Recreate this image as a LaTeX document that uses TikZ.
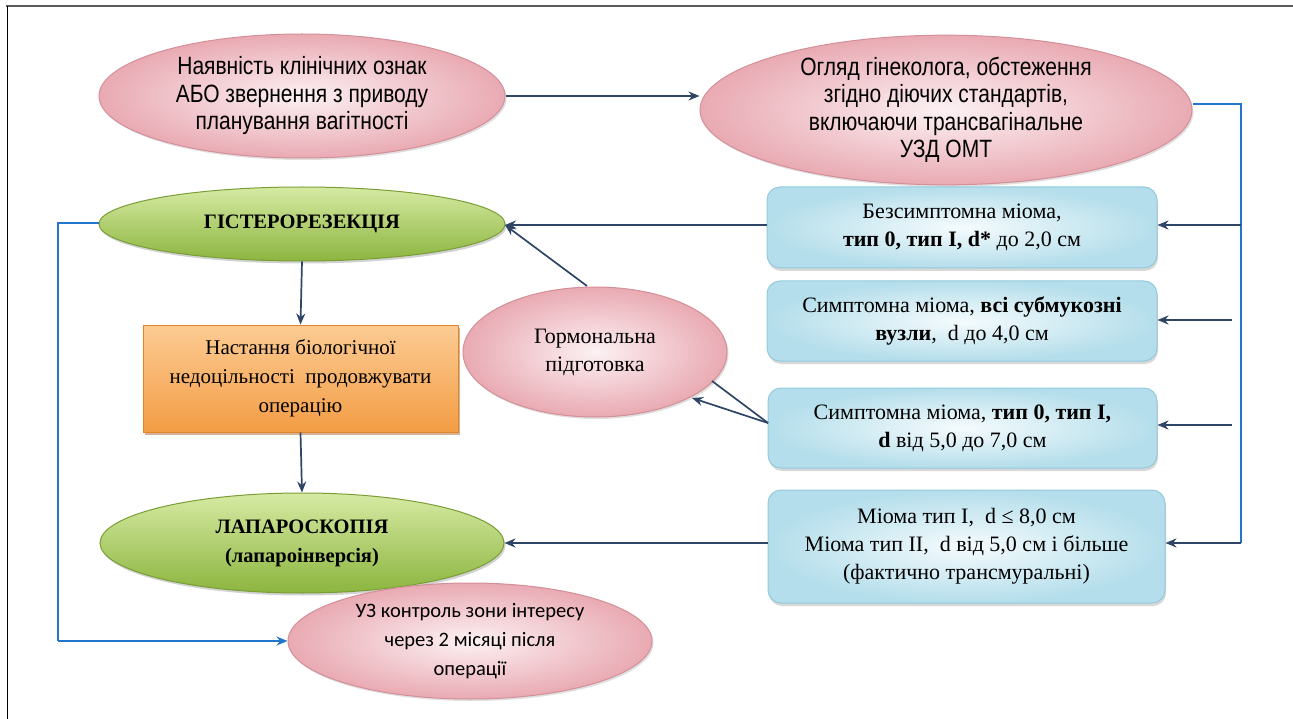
\documentclass[tikz,border=0pt]{standalone}
\usepackage{fontspec}
\setmainfont{Liberation Serif}
\newfontfamily\narrowsans[FakeStretch=0.84]{Liberation Sans}
\newfontfamily\calib{Carlito}
\usetikzlibrary{shapes.geometric,arrows.meta,shadows}
\definecolor{pinkin}{HTML}{FCF1F3}
\definecolor{pinkout}{HTML}{E9AAB3}
\definecolor{pinkedge}{HTML}{D58F99}
\definecolor{greentop}{HTML}{D6EAA3}
\definecolor{greenbot}{HTML}{8CB53F}
\definecolor{greenedge}{HTML}{7A9E36}
\definecolor{orangetop}{HTML}{FCCB93}
\definecolor{orangebot}{HTML}{F39D45}
\definecolor{orangeedge}{HTML}{E0842C}
\definecolor{bluein}{HTML}{F5FBFD}
\definecolor{blueout}{HTML}{B4DEEB}
\definecolor{blueedge}{HTML}{93CADC}
\definecolor{navy}{HTML}{2F4565}
\definecolor{bline}{HTML}{2277CC}
\definecolor{framegray}{HTML}{5A5A5A}
\tikzset{
  pinkell/.style={ellipse, draw=pinkedge, line width=1pt, inner color=pinkin, outer color=pinkout, inner sep=0pt, align=center, drop shadow={shadow xshift=1.5pt, shadow yshift=-2pt, opacity=0.25}},
  greenell/.style={ellipse, draw=greenedge, line width=1pt, top color=greentop, bottom color=greenbot, inner sep=0pt, align=center, drop shadow={shadow xshift=1.5pt, shadow yshift=-2.5pt, opacity=0.35}},
  orangebox/.style={rectangle, draw=orangeedge, line width=1pt, top color=orangetop, bottom color=orangebot, inner sep=0pt, align=center, drop shadow={shadow xshift=2pt, shadow yshift=-3pt, opacity=0.45, fill=orangeedge!70!black}},
  bluebox/.style={rectangle, rounded corners=13pt, draw=blueedge, line width=1pt, inner color=bluein, outer color=blueout, inner sep=0pt, align=center, drop shadow={shadow xshift=1pt, shadow yshift=-3pt, opacity=0.3}},
  arr/.style={draw=navy, line width=1.7pt, -{Stealth[length=11pt,width=9pt]}},
  plainline/.style={draw=navy, line width=1.7pt},
  blueln/.style={draw=bline, line width=2pt},
  bluearr/.style={draw=bline, line width=2pt, -{Stealth[length=11pt,width=9pt]}},
  ellsans/.style={font=\narrowsans\fontsize{25}{27.5}\selectfont},
  serif/.style={font=\fontsize{22}{28}\selectfont},
}
\begin{document}
\begin{tikzpicture}[x=1pt,y=-1pt]
\useasboundingbox (0,0) rectangle (1293,719);
\fill[white] (0,0) rectangle (1293,719);
% frame
\draw[framegray, line width=2pt] (6,6) -- (1293,6);
\draw[black, line width=1pt] (7,6) -- (7,719);

% nodes
\node[pinkell, ellsans, minimum width=406pt, minimum height=124pt] (A) at (302,96)
  {Наявність клінічних ознак\\АБО звернення з приводу\\планування вагітності};
\node[pinkell, ellsans, minimum width=492pt, minimum height=146pt] (B) at (946,110)
  {Огляд гінеколога, обстеження\\згідно діючих стандартів,\\включаючи трансвагінальне\\УЗД ОМТ};

\node[greenell, minimum width=406pt, minimum height=74pt, font=\bfseries\fontsize{20.5}{28}\selectfont] (G1) at (302,224)
  {ГІСТЕРОРЕЗЕКЦІЯ};
\node[orangebox, font=\fontsize{21}{29}\selectfont, minimum width=315pt, minimum height=107pt] (O) at (300.5,378.5)
  {Настання біологічної\\недоцільності\ \ продовжувати\\операцію};
\node[pinkell, serif, minimum width=264pt, minimum height=130pt] (H) at (595,352)
  {Гормональна\\підготовка};
\node[greenell, minimum width=404pt, minimum height=100pt, font=\bfseries\fontsize{20.5}{29}\selectfont] (G2) at (302,543)
  {ЛАПАРОСКОПІЯ\\(лапароінверсія)};
\node[pinkell, font=\calib\fontsize{20.5}{29}\selectfont, minimum width=364pt, minimum height=116pt] (U) at (470,641)
  {УЗ контроль зони інтересу\\через 2 місяці після\\операції};

\node[bluebox, serif, minimum width=390pt, minimum height=81pt] (B1) at (962,227.5)
  {Безсимптомна міома,\\\textbf{тип 0, тип I, d*} до 2,0 см};
\node[bluebox, serif, minimum width=390pt, minimum height=80pt] (B2) at (962,321)
  {Симптомна міома, \textbf{всі субмукозні}\\\textbf{вузли},\ \ d до 4,0 см};
\node[bluebox, serif, minimum width=389pt, minimum height=80pt] (B3) at (962.5,428)
  {Симптомна міома, \textbf{тип 0, тип I,}\\\textbf{d} від 5,0 до 7,0 см};
\node[bluebox, serif, minimum width=397pt, minimum height=113pt] (B4) at (966.5,546.5)
  {Міома тип I,\ \ d ≤ 8,0 см\\Міома тип II,\ \ d від 5,0 см і більше\\(фактично трансмуральні)};

% coordinates for free ends
\coordinate (R0) at (1241,104);
\coordinate (R1) at (1241,225);
\coordinate (R2) at (1232,320);
\coordinate (R3) at (1232,425);
\coordinate (R4) at (1241,543);
\coordinate (L0) at (58,223);
\coordinate (L1) at (58,641);
\coordinate (B3p) at (768,423);
\coordinate (Htop) at (587,286);
\coordinate (Hr1) at (712,381);
\coordinate (Hr2) at (692,398);
\coordinate (G1tip) at (505,225);

% connectors
\draw[arr] (A.east) -- (A.east -| B.west);
\draw[blueln] (B.east |- R0) -- (R0) -- (R4);
\draw[arr] (R1) -- (B1.east |- R1);
\draw[arr] (R2) -- (B2.east |- R2);
\draw[arr] (R3) -- (B3.east |- R3);
\draw[arr] (R4) -- (B4.east |- R4);
\draw[arr] (B1.west |- G1tip) -- (G1tip);
\draw[arr] (Htop) -- (G1tip);
\draw[plainline] (B3p) -- (Hr1);
\draw[arr] (B3p) -- (Hr2);
\draw[arr] (G1.south) -- (O.north);
\draw[arr] (O.south) -- (G2.north);
\draw[arr] (B4.west |- R4) -- (G2.east |- R4);
\draw[blueln] (G1.west |- L0) -- (L0) -- (L1);
\draw[bluearr] (L1) -- (U.west);
\end{tikzpicture}
\end{document}
